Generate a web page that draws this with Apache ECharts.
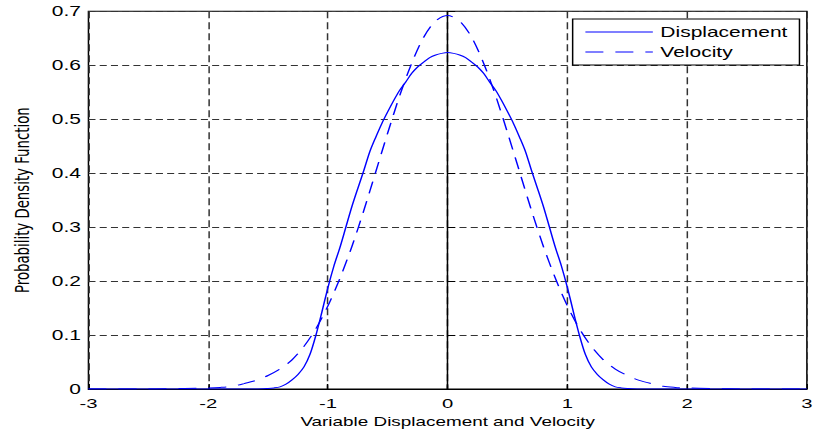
<!DOCTYPE html>
<html>
<head>
<meta charset="utf-8">
<script src="https://cdn.jsdelivr.net/npm/echarts@6/dist/echarts.min.js"></script>
<style>
  html, body { margin: 0; padding: 0; background: #fff; overflow: hidden; }
  /* Figure is laid out narrow and stretched horizontally, like the exported figure */
  #chart { width: 545px; height: 435px; transform: scaleX(1.49908); transform-origin: 0 0; }
</style>
</head>
<body>
<div id="chart"></div>
<script>
// Sample positions (x) and estimated density values
const dispX = [-3, -2.5, -2, -1.8, -1.6, -1.5, -1.45, -1.4, -1.35, -1.3, -1.25, -1.2, -1.15, -1.1, -1.05, -1.0,
  -0.95, -0.9, -0.85, -0.8, -0.75, -0.7, -0.65, -0.6, -0.55, -0.5, -0.45, -0.4, -0.35, -0.3, -0.25, -0.2,
  -0.15, -0.1, -0.05, 0, 0.05, 0.1, 0.15, 0.2, 0.25, 0.3, 0.35, 0.4, 0.45, 0.5, 0.55, 0.6, 0.65, 0.7,
  0.75, 0.8, 0.85, 0.9, 0.95, 1.0, 1.05, 1.1, 1.15, 1.2, 1.25, 1.3, 1.35, 1.4, 1.45, 1.5, 1.6, 1.8, 2, 2.5, 3];
const displacement = [0, 0, 0, 0, 0, 0.001, 0.002, 0.004, 0.009, 0.017, 0.027, 0.041, 0.064, 0.100, 0.143, 0.188,
  0.228, 0.262, 0.300, 0.338, 0.372, 0.405, 0.440, 0.467, 0.492, 0.514, 0.535, 0.554, 0.569, 0.585, 0.597, 0.606,
  0.614, 0.619, 0.622, 0.6235, 0.622, 0.619, 0.614, 0.606, 0.597, 0.585, 0.569, 0.554, 0.535, 0.514, 0.492, 0.467, 0.440, 0.405,
  0.372, 0.338, 0.300, 0.262, 0.228, 0.188, 0.143, 0.100, 0.064, 0.041, 0.027, 0.017, 0.009, 0.004, 0.002, 0.001, 0, 0, 0, 0, 0];

const velX = [-3, -2.5, -2.2, -2.0, -1.9, -1.8, -1.7, -1.6, -1.5, -1.4, -1.3, -1.2, -1.1, -1.0, -0.9, -0.8, -0.7,
  -0.6, -0.5, -0.4, -0.3, -0.2, -0.1, 0, 0.1, 0.2, 0.3, 0.4, 0.5, 0.6, 0.7, 0.8, 0.9, 1.0, 1.1, 1.2, 1.3, 1.4,
  1.5, 1.6, 1.7, 1.8, 1.9, 2.0, 2.2, 2.5, 3];
const velocity = [0, 0, 0.001, 0.002, 0.003, 0.005, 0.010, 0.016, 0.025, 0.037, 0.054, 0.079, 0.112, 0.154, 0.205,
  0.264, 0.331, 0.403, 0.475, 0.544, 0.604, 0.652, 0.682, 0.692, 0.682, 0.652, 0.604, 0.544, 0.475, 0.403, 0.331,
  0.264, 0.205, 0.154, 0.112, 0.079, 0.054, 0.037, 0.025, 0.016, 0.010, 0.005, 0.003, 0.002, 0.001, 0, 0];

const seriesNames = ['Displacement', 'Velocity'];
const xTickLabels = ['-3', '-2', '-1', '0', '1', '2', '3'];
const yTickLabels = ['0', '0.1', '0.2', '0.3', '0.4', '0.5', '0.6', '0.7'];

const pairs = (xs, ys) => xs.map((x, i) => [x, ys[i]]);
const font = 'Liberation Sans, Arial, sans-serif';

const chart = echarts.init(document.getElementById('chart'), null, { renderer: 'svg' });
chart.setOption({
  animation: false,
  backgroundColor: '#fff',
  grid: {
    left: 55.6, right: 3.5, top: 11.3, bottom: 46,
    show: true, borderColor: '#000', borderWidth: 1, backgroundColor: 'transparent'
  },
  legend: {
    orient: 'vertical',
    left: 382, top: 19,
    data: seriesNames,
    itemWidth: 45, itemHeight: 14, itemGap: 6,
    padding: [6, 8, 6, 8],
    borderColor: '#000', borderWidth: 1, borderRadius: 0,
    backgroundColor: '#fff',
    itemStyle: { opacity: 0 },
    lineStyle: { width: 1 },
    textStyle: { fontFamily: font, fontSize: 14, color: '#000' }
  },
  xAxis: {
    type: 'value', min: -3, max: 3, interval: 1,
    name: 'Variable Displacement and Velocity',
    nameLocation: 'middle', nameGap: 22,
    nameTextStyle: { fontFamily: font, fontSize: 12.6, color: '#000' },
    axisLine: { show: true, onZero: false, lineStyle: { color: '#000', width: 1 } },
    axisTick: { show: true, inside: true, length: 5, lineStyle: { color: '#000' } },
    axisLabel: {
      fontFamily: font, fontSize: 13.5, color: '#000', margin: 7,
      formatter: (v, i) => xTickLabels[i]
    },
    splitLine: { show: true, lineStyle: { color: '#333', width: 1, type: [7, 4] } }
  },
  yAxis: {
    type: 'value', min: 0, max: 0.7, interval: 0.1,
    name: 'Probability Density Function',
    nameLocation: 'middle', nameGap: 38, nameRotate: 90,
    nameTextStyle: { fontFamily: 'DejaVu Sans, sans-serif', fontSize: 13.3, color: '#000' },
    axisLine: { show: true, lineStyle: { color: '#000', width: 1 } },
    axisTick: { show: true, inside: true, length: 5, lineStyle: { color: '#000' } },
    axisLabel: {
      fontFamily: font, fontSize: 14, color: '#000', margin: 5,
      formatter: (v, i) => yTickLabels[i]
    },
    splitLine: { show: true, lineStyle: { color: '#333', width: 1, type: [4.7, 2.8] } }
  },
  series: [
    {
      name: seriesNames[0], type: 'line', data: pairs(dispX, displacement),
      showSymbol: false, symbol: 'none', smooth: 0.3,
      lineStyle: { color: '#0000ff', width: 1, type: 'solid' },
      itemStyle: { color: '#0000ff' }
    },
    {
      name: seriesNames[1], type: 'line', data: pairs(velX, velocity),
      showSymbol: false, symbol: 'none', smooth: 0.3,
      lineStyle: { color: '#0000ff', width: 1, type: [12, 8] },
      itemStyle: { color: '#0000ff' }
    }
  ]
});
</script>
</body>
</html>
